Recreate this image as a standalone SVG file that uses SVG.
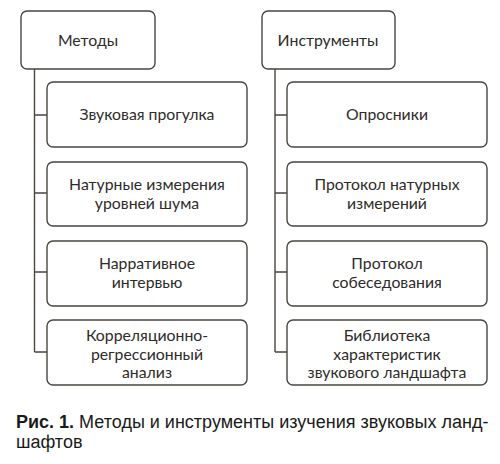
<svg xmlns="http://www.w3.org/2000/svg" width="500" height="464" viewBox="0 0 500 464">
<style>
.box{fill:#fff;stroke:#4a4640;stroke-width:1.4}
.ln{fill:none;stroke:#4a4640;stroke-width:1.4}
.t{font-family:Lato,"Open Sans",sans-serif;font-size:15.8px;fill:#2e2c2a;text-anchor:middle}
.cap{font-family:"Liberation Sans",Arial,sans-serif;font-size:18px;fill:#1a1a1a}
</style>
<rect width="500" height="464" fill="#fff"/>
<g id="connectors">
<path class="ln" d="M34.5 69V352M34.5 115H47M34.5 193H47M34.5 272H47M34.5 352H47"/>
<path class="ln" d="M275 69V352M275 115H287M275 193H287M275 272H287M275 352H287"/>
</g>
<g id="methods"><rect class="box" x="21" y="11" width="134" height="58" rx="6"/><text class="t" x="88" y="46">Методы</text></g>
<g id="m1"><rect class="box" x="47" y="82" width="200" height="65" rx="6"/><text class="t" x="147" y="120">Звуковая прогулка</text></g>
<g id="m2"><rect class="box" x="47" y="162" width="200" height="64" rx="6"/><text class="t" x="147" y="190">Натурные измерения</text><text class="t" x="147" y="209">уровней шума</text></g>
<g id="m3"><rect class="box" x="47" y="241" width="200" height="65" rx="6"/><text class="t" x="147" y="269">Нарративное</text><text class="t" x="147" y="288">интервью</text></g>
<g id="m4"><rect class="box" x="47" y="320" width="200" height="65" rx="6"/><text class="t" x="147" y="341">Корреляционно-</text><text class="t" x="147" y="360">регрессионный</text><text class="t" x="147" y="378">анализ</text></g>
<g id="tools"><rect class="box" x="262" y="11" width="133" height="58" rx="6"/><text class="t" x="328" y="46">Инструменты</text></g>
<g id="t1"><rect class="box" x="287" y="82" width="200" height="65" rx="6"/><text class="t" x="387" y="120">Опросники</text></g>
<g id="t2"><rect class="box" x="287" y="162" width="200" height="64" rx="6"/><text class="t" x="387" y="190">Протокол натурных</text><text class="t" x="387" y="209">измерений</text></g>
<g id="t3"><rect class="box" x="287" y="241" width="200" height="65" rx="6"/><text class="t" x="387" y="269">Протокол</text><text class="t" x="387" y="288">собеседования</text></g>
<g id="t4"><rect class="box" x="287" y="320" width="200" height="65" rx="6"/><text class="t" x="387" y="341">Библиотека</text><text class="t" x="387" y="360">характеристик</text><text class="t" x="387" y="378">звукового ландшафта</text></g>
<text class="cap" x="16" y="428"><tspan font-weight="bold">Рис. 1.</tspan> Методы и инструменты изучения звуковых ланд-</text>
<text class="cap" x="16" y="448">шафтов</text>
</svg>
